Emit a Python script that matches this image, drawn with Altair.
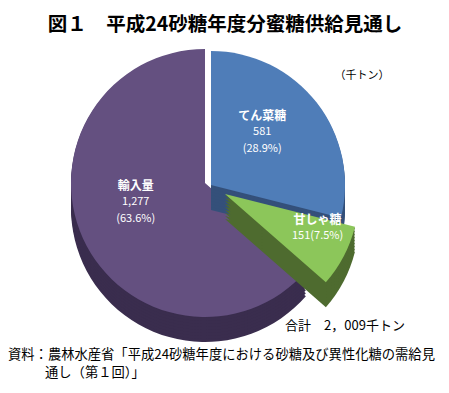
import math
import altair as alt
import pandas as pd

# ---- data ----
names = ["てん菜糖", "甘しゃ糖", "輸入量"]
values = [581, 151, 1277]
detail_labels = ["581\n(28.9%)", "151(7.5%)", "1,277\n(63.6%)"]
order = [0, 1, 2]
top_colors = ["#4f7db8", "#8cc65a", "#645080"]
side_colors = ["#34507a", "#4e6b2f", "#3a2d4e"]

title_text = "図１　平成24砂糖年度分蜜糖供給見通し"
unit_text = "（千トン）"
total_text = "合計　2，009千トン"
source_line1 = "資料：農林水産省「平成24砂糖年度における砂糖及び異性化糖の需給見"
source_line2 = "通し（第１回）」"

FONT = "Noto Sans CJK JP"
total = sum(values)

df = pd.DataFrame({"name": names, "value": values, "detail": detail_labels, "order": order})

base = (
    alt.Chart(df)
    .transform_window(end="sum(value)", sort=[alt.SortField("order")], frame=[None, 0])
    .transform_calculate(start="datum.end - datum.value")
    .transform_calculate(mid="(datum.start + datum.end) / 2")
)
theta_scale = alt.Scale(domain=[0, total], range=[0, 2 * math.pi])

W, H = 394, 274
cx, cy = W / 2, H / 2
R = 134
DEPTH = 25

# explosion offsets per slice (x, y) and label settings (radius, dx, dy)
explode = {0: (6, 2), 1: (20, 11), 2: (0, 0)}
label_cfg = {0: (70, -4, -26), 1: (100, 4, -20), 2: (75, -1, -28)}

layers = []
for i in [2, 0, 1]:
    ox, oy = explode[i]
    sl = base.transform_filter(alt.datum.order == i)
    for d in range(DEPTH, 0, -3):
        layers.append(
            sl.mark_arc(x=cx + ox, y=cy + oy + d, radius=R, color=side_colors[i])
            .encode(theta=alt.Theta("start:Q", scale=theta_scale), theta2="end:Q")
        )
    layers.append(
        sl.mark_arc(x=cx + ox, y=cy + oy, radius=R, color=top_colors[i])
        .encode(theta=alt.Theta("start:Q", scale=theta_scale), theta2="end:Q")
    )

for i in [0, 1, 2]:
    ox, oy = explode[i]
    r, ldx, ldy = label_cfg[i]
    sl = base.transform_filter(alt.datum.order == i)
    layers.append(
        sl.mark_text(font=FONT, fontSize=12, fontWeight="bold", color="white",
                     baseline="middle", dx=ox + ldx, dy=oy + ldy)
        .encode(theta=alt.Theta("mid:Q", scale=theta_scale), radius=alt.value(r), text="name:N")
    )
    layers.append(
        sl.mark_text(font=FONT, fontSize=11, color="white", baseline="top",
                     lineBreak="\n", lineHeight=17, dx=ox + ldx, dy=oy + ldy + 10)
        .encode(theta=alt.Theta("mid:Q", scale=theta_scale), radius=alt.value(r), text="detail:N")
    )

one = pd.DataFrame({"k": [0]})


def annot(text, x, y, size, align="center", weight="normal"):
    return alt.Chart(one).mark_text(
        font=FONT, fontSize=size, fontWeight=weight, color="black", align=align, baseline="middle"
    ).encode(x=alt.value(x), y=alt.value(y), text=alt.value(text))


layers.append(annot(title_text, 217, -21, 19.5, weight="bold"))
layers.append(annot(unit_text, 354, 30, 11))
layers.append(annot(total_text, 337, 280, 13))
layers.append(annot(source_line1, 0, 309, 13.3, align="left"))
layers.append(annot(source_line2, 37, 327, 13.3, align="left"))

chart = alt.layer(*layers).properties(
    width=W,
    height=H,
    padding={"left": 0, "top": 38, "right": 39, "bottom": 65},
    autosize=alt.AutoSizeParams(type="none"),
).configure_view(stroke=None)

chart.save("out.html", embed_options={"renderer": "svg", "actions": False})
